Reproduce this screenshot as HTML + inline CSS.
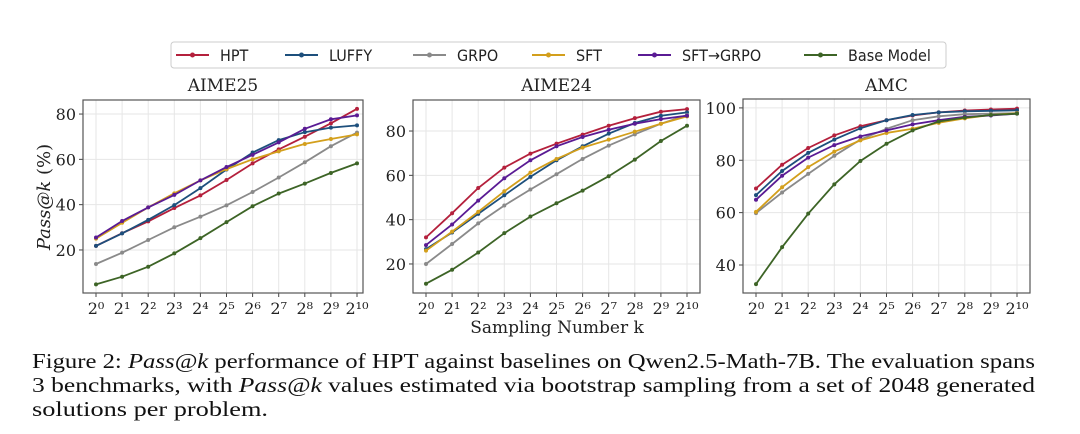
<!DOCTYPE html>
<html><head><meta charset="utf-8"><style>
html,body{margin:0;padding:0;background:#fff;width:1080px;height:434px;overflow:hidden}
svg text{font-family:"DejaVu Serif","Liberation Serif",serif}
</style></head><body>
<svg id="fig" width="1080" height="434" viewBox="0 0 1080 434" xmlns="http://www.w3.org/2000/svg">
<g id="legend">
<rect x="171" y="42" width="775" height="26" rx="3" fill="#fff" stroke="#ccc" stroke-width="1"/>
</g>
<g id="plots"></g>
<text transform="translate(50,197) rotate(-90)" text-anchor="middle" font-size="18" fill="#222"><tspan font-style="italic">Pass@k</tspan> (%)</text>
<text x="557" y="333" text-anchor="middle" font-size="17" fill="#222">Sampling Number k</text>
<g font-size="21" fill="#111" style="font-family:'Liberation Serif',serif">
<text x="32" y="368" textLength="1003" lengthAdjust="spacingAndGlyphs" style="font-family:'Liberation Serif',serif">Figure 2: <tspan font-style="italic">Pass@k</tspan> performance of HPT against baselines on Qwen2.5-Math-7B. The evaluation spans</text>
<text x="32" y="392" textLength="1003" lengthAdjust="spacingAndGlyphs" style="font-family:'Liberation Serif',serif">3 benchmarks, with <tspan font-style="italic">Pass@k</tspan> values estimated via bootstrap sampling from a set of 2048 generated</text>
<text x="32" y="416" textLength="236" lengthAdjust="spacingAndGlyphs" style="font-family:'Liberation Serif',serif">solutions per problem.</text>
</g>
</svg>
<script>
const seriesNames = ["HPT","LUFFY","GRPO","SFT","SFT→GRPO","Base Model"];
const seriesKeys = ["hpt","luffy","grpo","sft","sftgrpo","base"];
const seriesColors = ["#b4203c","#1d4f7c","#8a8a8a","#d39f1c","#5a1b94","#3d6426"];
const xExponents = [0,1,2,3,4,5,6,7,8,9,10];
const aime25Hpt = [21.8,27.4,32.6,38.5,44.1,50.9,58.2,64.4,70,75.9,82.3];
const aime25Luffy = [21.8,27.3,33.3,39.8,47.3,55.5,63,68.5,72,74,75];
const aime25Grpo = [13.8,18.8,24.4,30,34.7,39.7,45.6,52,58.7,65.8,71.8];
const aime25Sft = [25,32,38.8,45,50.7,55.7,60,63.5,66.8,69,71];
const aime25SftGrpo = [25.5,32.8,38.8,44.3,50.7,56.6,62,67.5,73.5,77.7,79.4];
const aime25Base = [4.8,8.2,12.6,18.5,25.2,32.3,39.3,44.9,49.3,54,58.2];
const aime24Hpt = [32,42.9,54.3,63.5,69.8,74.3,78.4,82.4,85.8,88.7,89.9];
const aime24Luffy = [26.7,34.2,42.6,51,59.3,66.8,73.1,78.8,83.6,86.9,88.4];
const aime24Grpo = [20,29,38.3,46.4,53.6,60.5,67.4,73.4,78.5,83.3,87.2];
const aime24Sft = [26,34.6,43.5,52.8,61.2,67.4,72.5,76.1,79.7,83.3,86.6];
const aime24SftGrpo = [28.5,37.8,48.6,58.7,66.8,73.1,77.3,80.6,83.3,85.4,86.9];
const aime24Base = [11.1,17.4,25.2,33.9,41.4,47.4,53.1,59.6,67.1,75.5,82.4];
const amcHpt = [69.2,78.3,84.7,89.5,93,95.3,97.1,98.3,99,99.4,99.7];
const amcLuffy = [66.7,75.9,82.8,87.9,92.2,95.3,97.3,98.3,98.7,98.9,99.1];
const amcGrpo = [59.8,67.7,74.8,81.7,87.9,92,95.3,96.8,97.6,97.8,98];
const amcSft = [60.3,69.7,77.4,83.3,87.6,90.4,92,94.3,96,97.3,98];
const amcSftGrpo = [64.9,74.1,81,85.8,89.1,91.4,93.7,95.3,96.6,97.1,97.8];
const amcBase = [32.7,46.8,59.6,70.8,79.7,86.3,91.4,94.8,96.3,97.3,97.8];
const aime25Ticks = [20,40,60,80];
const aime24Ticks = [20,40,60,80];
const amcTicks = [40,60,80,100];

const NS="http://www.w3.org/2000/svg";
function mk(tag,attrs,parent){const e=document.createElementNS(NS,tag);for(const k in attrs)e.setAttribute(k,attrs[k]);if(parent)parent.appendChild(e);return e;}

const panels=[
 {title:"AIME25",key:"aime25",x0:83,x1:363,y0:100,y1:293,px0:96,px1:357,dmin:1.0,dmax:86.2,ticks:aime25Ticks,
  data:[aime25Hpt,aime25Luffy,aime25Grpo,aime25Sft,aime25SftGrpo,aime25Base]},
 {title:"AIME24",key:"aime24",x0:413,x1:700,y0:100,y1:293,px0:426,px1:687,dmin:6.9,dmax:94.0,ticks:aime24Ticks,
  data:[aime24Hpt,aime24Luffy,aime24Grpo,aime24Sft,aime24SftGrpo,aime24Base]},
 {title:"AMC",key:"amc",x0:743,x1:1030,y0:99,y1:293,px0:756,px1:1017,dmin:29.3,dmax:103.4,ticks:amcTicks,
  data:[amcHpt,amcLuffy,amcGrpo,amcSft,amcSftGrpo,amcBase]}
];
const supMap={"0":"⁰","1":"¹","2":"²","3":"³","4":"⁴","5":"⁵","6":"⁶","7":"⁷","8":"⁸","9":"⁹"};
const plots=document.getElementById('plots');
panels.forEach(p=>{
 const g=mk('g',{},plots);
 
 
 const xs=i=>p.px0+(p.px1-p.px0)*(xExponents[i]-xExponents[0])/(xExponents[xExponents.length-1]-xExponents[0]);
 const ys=v=>p.y1-(v-p.dmin)/(p.dmax-p.dmin)*(p.y1-p.y0);
 // grid
 xExponents.forEach((e,i)=>{
  const l=mk('line',{x1:xs(i),x2:xs(i),y1:p.y0,y2:p.y1,stroke:"#e6e6e6","stroke-width":1},g);
  
  
  const t=mk('line',{x1:xs(i),x2:xs(i),y1:p.y1,y2:p.y1+4,stroke:"#444","stroke-width":1},g);
  
  
  const lab=mk('text',{x:xs(i),y:p.y1+21,"text-anchor":"middle","font-size":16,fill:"#222"},g);
  lab.textContent="2"+String(e).split('').map(c=>supMap[c]).join('');
  
  
 });
 p.ticks.forEach(v=>{
  const y=ys(v);
  const l=mk('line',{x1:p.x0,x2:p.x1,y1:y,y2:y,stroke:"#e6e6e6","stroke-width":1},g);
  
  
  const t=mk('line',{x1:p.x0-4,x2:p.x0,y1:y,y2:y,stroke:"#444","stroke-width":1},g);
  
  
  const lab=mk('text',{x:p.x0-7,y:y+6,"text-anchor":"end","font-size":16,fill:"#222"},g);
  lab.textContent=v;
  
  
 });
 const fr=mk('rect',{x:p.x0,y:p.y0,width:p.x1-p.x0,height:p.y1-p.y0,fill:"none",stroke:"#555","stroke-width":1.2},g);
 
 
 const tt=mk('text',{x:(p.x0+p.x1)/2,y:91,"text-anchor":"middle","font-size":17,fill:"#222"},g);
 tt.textContent=p.title;
 
 
 p.data.forEach((arr,si)=>{
  const pts=arr.map((v,i)=>xs(i).toFixed(1)+","+ys(v).toFixed(1)).join(" ");
  const pl=mk('polyline',{points:pts,fill:"none",stroke:seriesColors[si],"stroke-width":1.8},g);
  
  
  arr.forEach((v,i)=>{
   const c=mk('circle',{cx:xs(i),cy:ys(v),r:2,fill:seriesColors[si]},g);
   
   
  });
 });
});
// legend
const lg=document.getElementById('legend');
const legX=[176,285,413,532,638,804];
seriesNames.forEach((n,i)=>{
 const e=mk('g',{},lg);
 
 
 mk('line',{x1:legX[i],x2:legX[i]+33,y1:55,y2:55,stroke:seriesColors[i],"stroke-width":2},e);
 mk('circle',{cx:legX[i]+16.5,cy:55,r:2.5,fill:seriesColors[i]},e);
 const t=mk('text',{x:legX[i]+44,y:61,"font-size":16,fill:"#222"},e);
 t.setAttribute('style',"font-family:'DejaVu Sans Condensed','Liberation Sans Narrow','Liberation Sans',sans-serif");
 t.textContent=n;
});
</script>
</body></html>
